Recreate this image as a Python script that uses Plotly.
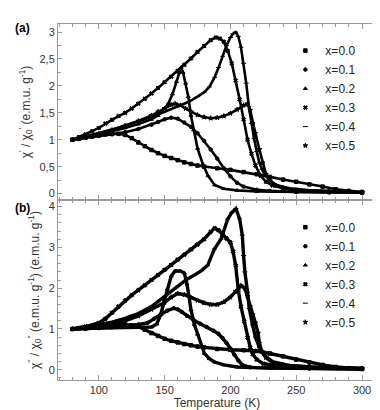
import plotly.graph_objects as go

labels = ["x=0.0", "x=0.1", "x=0.2", "x=0.3", "x=0.4", "x=0.5"]
symbols = ["square", "circle", "triangle-up", "x", "line-ew", "star"]

# ---------------- (a) real part chi'/chi'_0 ----------------
T_re_x00 = [80, 85, 90, 95, 100, 105, 110, 115, 120, 125, 130, 135, 140, 145, 150, 155, 160, 165, 170, 175,
            180, 190, 200, 210, 220, 230, 240, 250, 260, 270, 280, 290, 300]
chi_re_x00 = [1.00, 1.02, 1.04, 1.06, 1.08, 1.10, 1.11, 1.11, 1.09, 1.03, 0.95, 0.88, 0.81, 0.75, 0.70, 0.66, 0.62,
              0.58, 0.55, 0.52, 0.50, 0.47, 0.44, 0.40, 0.36, 0.31, 0.26, 0.22, 0.17, 0.13, 0.08, 0.05, 0.03]

T_re_x01 = [80, 90, 100, 110, 120, 130, 140, 145, 150, 155, 160, 165, 170, 175, 180, 185, 190, 195, 200, 205,
            210, 220, 230, 250, 275, 300]
chi_re_x01 = [1.00, 1.04, 1.07, 1.10, 1.14, 1.20, 1.28, 1.33, 1.38, 1.41, 1.39, 1.32, 1.24, 1.12, 0.98, 0.82,
              0.65, 0.47, 0.32, 0.20, 0.13, 0.07, 0.05, 0.03, 0.02, 0.02]

T_re_x02 = [80, 90, 100, 110, 120, 130, 140, 145, 150, 153, 156, 159, 161, 162.5, 164, 166, 168, 170, 172, 175,
            179, 183, 188, 195, 205, 220, 250, 300]
chi_re_x02 = [1.00, 1.05, 1.10, 1.16, 1.22, 1.29, 1.38, 1.45, 1.58, 1.68, 1.85, 2.08, 2.25, 2.34, 2.25, 2.05,
              1.80, 1.45, 1.18, 0.84, 0.55, 0.33, 0.16, 0.09, 0.06, 0.04, 0.03, 0.02]

T_re_x03 = [80, 85, 90, 95, 100, 105, 110, 115, 120, 125, 130, 135, 140, 145, 150, 155, 160, 165, 170, 175, 180,
            185, 189, 192, 195, 198, 201, 204, 207, 210, 213, 216, 219, 223, 227, 232, 240, 250, 275, 300]
chi_re_x03 = [1.00, 1.05, 1.10, 1.16, 1.22, 1.30, 1.37, 1.44, 1.50, 1.58, 1.67, 1.76, 1.86, 1.96, 2.07, 2.17,
              2.28, 2.39, 2.51, 2.63, 2.74, 2.85, 2.90, 2.88, 2.82, 2.65, 2.42, 2.10, 1.75, 1.38, 1.00, 0.74,
              0.52, 0.33, 0.22, 0.15, 0.10, 0.07, 0.04, 0.02]

T_re_x04 = [80, 90, 100, 110, 120, 130, 140, 150, 160, 168, 175, 180, 184, 188, 191, 194, 197, 200, 202, 204,
            206, 208, 210, 212, 214, 216, 218, 220, 222, 224, 226, 230, 235, 245, 260, 300]
chi_re_x04 = [1.00, 1.06, 1.12, 1.19, 1.26, 1.34, 1.42, 1.52, 1.62, 1.70, 1.80, 1.88, 1.98, 2.16, 2.34, 2.55,
              2.75, 2.90, 2.97, 3.00, 2.92, 2.72, 2.42, 2.05, 1.62, 1.30, 1.02, 0.78, 0.57, 0.45, 0.36, 0.24,
              0.16, 0.10, 0.06, 0.03]

T_re_x05 = [80, 90, 100, 110, 120, 130, 140, 145, 150, 155, 158, 162, 166, 170, 175, 180, 185, 190, 195, 200,
            205, 210, 213, 215, 217, 219, 222, 224.5, 227, 230, 235, 240, 250, 275, 300]
chi_re_x05 = [1.00, 1.05, 1.11, 1.18, 1.26, 1.35, 1.45, 1.52, 1.58, 1.65, 1.67, 1.64, 1.58, 1.52, 1.46, 1.42,
              1.40, 1.41, 1.44, 1.49, 1.56, 1.64, 1.67, 1.55, 1.30, 1.12, 0.82, 0.57, 0.36, 0.24, 0.15, 0.10,
              0.06, 0.03, 0.02]

# ---------------- (b) imaginary part chi''/chi''_0 ----------------
T_im_x00 = [80, 85, 90, 95, 100, 105, 110, 115, 120, 125, 130, 135, 140, 145, 150, 155, 160, 165, 170, 175, 180,
            190, 200, 210, 220, 230, 240, 250, 260, 270, 280, 290, 300]
chi_im_x00 = [1.00, 1.02, 1.04, 1.06, 1.08, 1.10, 1.12, 1.12, 1.11, 1.09, 1.06, 0.98, 0.90, 0.83, 0.76, 0.71,
              0.67, 0.63, 0.60, 0.57, 0.55, 0.51, 0.49, 0.48, 0.46, 0.40, 0.33, 0.25, 0.18, 0.12, 0.07, 0.04, 0.02]

T_im_x01 = [80, 90, 100, 110, 120, 130, 137, 142, 147, 152, 157, 160, 163, 167, 172, 177, 182, 187, 191, 194,
            197, 200, 203, 206, 209, 215, 230, 260, 300]
chi_im_x01 = [1.00, 1.00, 1.02, 1.04, 1.07, 1.11, 1.15, 1.25, 1.36, 1.45, 1.51, 1.48, 1.42, 1.32, 1.22, 1.13,
              1.05, 0.96, 0.88, 0.78, 0.66, 0.52, 0.37, 0.23, 0.12, 0.06, 0.05, 0.03, 0.02]

T_im_x02 = [80, 90, 100, 110, 120, 130, 140, 144, 147, 150, 152, 155, 158, 162, 165, 167, 168.5, 170, 172.6,
            175, 178, 180.2, 184, 188, 195, 205, 230, 300]
chi_im_x02 = [1.00, 1.00, 1.02, 1.03, 1.04, 1.04, 1.05, 1.12, 1.35, 1.71, 1.98, 2.30, 2.42, 2.42, 2.37, 2.10,
              1.80, 1.47, 1.11, 0.87, 0.60, 0.40, 0.27, 0.19, 0.12, 0.07, 0.04, 0.02]

T_im_x03 = [80, 90, 100, 105, 110, 115, 120, 125, 130, 135, 140, 145, 150, 155, 160, 165, 170, 175, 180, 185,
            188, 191, 194, 197, 200, 202, 204, 206, 208, 210.5, 213, 215, 217, 220, 225, 235, 260, 300]
chi_im_x03 = [1.00, 1.06, 1.15, 1.25, 1.40, 1.55, 1.70, 1.83, 1.95, 2.07, 2.20, 2.32, 2.45, 2.57, 2.70, 2.82,
              2.95, 3.07, 3.20, 3.38, 3.47, 3.42, 3.32, 3.22, 3.12, 2.90, 2.55, 1.95, 1.55, 1.19, 0.79, 0.55,
              0.38, 0.25, 0.15, 0.10, 0.05, 0.03]

T_im_x04 = [80, 90, 100, 110, 120, 130, 140, 150, 160, 167, 172.6, 178, 182.7, 187.8, 192.8, 197.9, 201, 204.2,
            207, 209, 210, 211, 213, 214.3, 216.8, 219, 222, 226, 232, 245, 270, 300]
chi_im_x04 = [1.00, 1.05, 1.10, 1.17, 1.26, 1.38, 1.55, 1.80, 2.05, 2.22, 2.32, 2.43, 2.56, 2.96, 3.20, 3.69,
              3.85, 3.95, 3.70, 3.30, 2.80, 2.40, 1.90, 1.50, 1.10, 0.80, 0.55, 0.35, 0.20, 0.10, 0.05, 0.03]

T_im_x05 = [80, 90, 100, 110, 120, 130, 140, 150, 155, 160, 165, 170, 175, 180, 185, 190, 195, 200, 204, 208,
            211, 213, 215, 217, 219, 221, 222, 224, 227, 232, 240, 260, 280, 300]
chi_im_x05 = [1.00, 1.03, 1.07, 1.12, 1.20, 1.32, 1.48, 1.65, 1.78, 1.87, 1.84, 1.77, 1.70, 1.64, 1.60, 1.60,
              1.66, 1.78, 1.92, 2.06, 2.00, 1.80, 1.55, 1.35, 1.15, 0.90, 0.65, 0.45, 0.30, 0.18, 0.12, 0.07,
              0.04, 0.03]

re_T = [T_re_x00, T_re_x01, T_re_x02, T_re_x03, T_re_x04, T_re_x05]
re_chi = [chi_re_x00, chi_re_x01, chi_re_x02, chi_re_x03, chi_re_x04, chi_re_x05]
im_T = [T_im_x00, T_im_x01, T_im_x02, T_im_x03, T_im_x04, T_im_x05]
im_chi = [chi_im_x00, chi_im_x01, chi_im_x02, chi_im_x03, chi_im_x04, chi_im_x05]

fig = go.Figure()

def add_series(T, v, name, sym, xa, ya, leg, lw):
    fig.add_trace(go.Scatter(x=T, y=v, mode="lines", xaxis=xa, yaxis=ya,
                             line=dict(color="black", width=lw), showlegend=False, hoverinfo="skip"))
    fig.add_trace(go.Scatter(x=T, y=v, mode="markers", xaxis=xa, yaxis=ya, name=name, legend=leg,
                             marker=dict(symbol=sym, size=3.5, color="black",
                                         line=dict(color="black", width=1))))

for i in range(6):
    add_series(re_T[i], re_chi[i], labels[i], symbols[i], "x", "y", "legend", 2.6)
for i in range(6):
    add_series(im_T[i], im_chi[i], labels[i], symbols[i], "x2", "y2", "legend2", 3.4)

frame = "#9a9a9a"
axis_common = dict(showline=True, linecolor=frame, linewidth=1, mirror="allticks", ticks="inside",
                   tickcolor=frame, showgrid=False, zeroline=False,
                   tickfont=dict(size=11, color="#333333"))

split = 0.5055
fig.update_layout(
    width=380, height=410,
    margin=dict(l=50, r=11, t=16, b=32),
    plot_bgcolor="white", paper_bgcolor="white",
    separators=", ",
    font=dict(family="Liberation Sans, Arial, sans-serif", size=11, color="#333333"),
    xaxis=dict(domain=[0, 1], anchor="y", range=[69, 310.6], tick0=0, dtick=50, ticklen=5,
               showticklabels=False,
               minor=dict(dtick=10, ticklen=3, ticks="inside", tickcolor=frame), **axis_common),
    yaxis=dict(domain=[split, 1], anchor="x", range=[-0.12, 3.15], tick0=0, dtick=0.5, ticklen=4,
               minor=dict(dtick=0.25, ticklen=3, ticks="inside", tickcolor=frame),
               title=dict(text="χ<sup>'</sup> / χ<sub>0</sub><sup>'</sup> (e.m.u. g<sup>-1</sup>)",
                          font=dict(size=12, color="#333333"), standoff=6),
               **axis_common),
    xaxis2=dict(domain=[0, 1], anchor="y2", range=[69, 310.6], tick0=0, dtick=50, ticklen=5,
                minor=dict(dtick=10, ticklen=3, ticks="inside", tickcolor=frame),
                title=dict(text="Temperature (K)", font=dict(size=12, color="#333333"), standoff=2),
                **axis_common),
    yaxis2=dict(domain=[0, split], anchor="x2", range=[-0.25, 4.16], tick0=0, dtick=1, ticklen=4,
                minor=dict(dtick=0.2, ticklen=3, ticks="inside", tickcolor=frame),
                title=dict(text="χ<sup>''</sup> / χ<sub>0</sub><sup>''</sup> (e.m.u. g<sup>-1</sup>) (e.m.u. g<sup>-1</sup>)",
                           font=dict(size=12, color="#333333"), standoff=6),
                **axis_common),
    legend=dict(x=0.715, y=0.966, xanchor="left", yanchor="top", bgcolor="rgba(0,0,0,0)",
                font=dict(size=12, color="#222222"), itemwidth=30, tracegroupgap=0),
    legend2=dict(x=0.715, y=0.47, xanchor="left", yanchor="top", bgcolor="rgba(0,0,0,0)",
                 font=dict(size=12, color="#222222"), itemwidth=30, tracegroupgap=0),
    annotations=[
        dict(text="<b>(a)</b>", xref="paper", yref="paper", x=-0.14, y=0.989, xanchor="left",
             yanchor="middle", showarrow=False, font=dict(size=12, color="black")),
        dict(text="<b>(b)</b>", xref="paper", yref="paper", x=-0.14, y=0.483, xanchor="left",
             yanchor="middle", showarrow=False, font=dict(size=12, color="black")),
    ],
)

fig.write_html("out.html")
